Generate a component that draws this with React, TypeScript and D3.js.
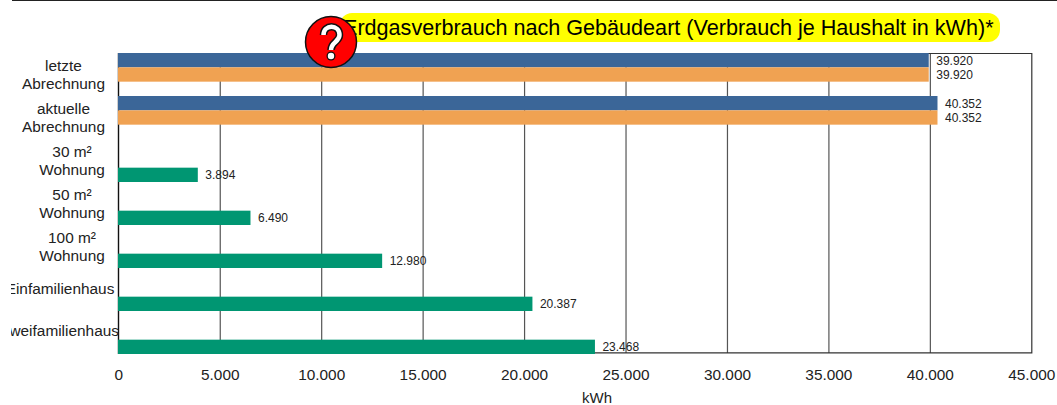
import React from "react";
import * as d3 from "d3";

const categories = [
  ["letzte", "Abrechnung"],
  ["aktuelle", "Abrechnung"],
  ["30 m²", "Wohnung"],
  ["50 m²", "Wohnung"],
  ["100 m²", "Wohnung"],
  ["Einfamilienhaus"],
  ["Zweifamilienhaus"],
];
const blueValues = [39920, 40352, null, null, null, null, null];
const orangeValues = [39920, 40352, null, null, null, null, null];
const greenValues = [null, null, 3894, 6490, 12980, 20387, 23468];
const xTicks = [0, 5000, 10000, 15000, 20000, 25000, 30000, 35000, 40000, 45000];
const seriesNames = ["blue", "orange", "green"];
const seriesColors = ["#3b6698", "#f0a252", "#009672"];
const titleText = "Erdgasverbrauch nach Gebäudeart (Verbrauch je Haushalt in kWh)*";
const axisLabel = "kWh";

const labelCenters = [63.5, 63.5, 72, 72, 72, 60, 59.5];
const labelOffsets = [18, 18, 18, 18, 18, 26, 25];

const fmt = (v: number) => d3.format(",")(v).replace(/,/g, ".");
const FONT = "'Liberation Sans', Arial, sans-serif";

export default function App() {
  const x = d3.scaleLinear().domain([0, 45000]).range([118.8, 1031.8]);
  const y = d3.scaleBand().domain(categories.map((_, i) => String(i))).range([53, 354]);
  const s = d3.scaleBand().domain(seriesNames).range([0, y.bandwidth()]);
  const allSeries = [blueValues, orangeValues, greenValues];
  return (
    <svg width={1057} height={405} style={{ position: "absolute", left: 0, top: 0, display: "block" }} fontFamily={FONT}>
      <defs>
        <clipPath id="c"><rect x={11} y={0} width={1046} height={405} /></clipPath>
      </defs>
      <line x1={12} x2={1057} y1={0.5} y2={0.5} stroke="#222" />
      {xTicks.slice(1, -1).map((t) => (
        <line key={t} x1={x(t)} x2={x(t)} y1={53} y2={353} stroke="#555" strokeWidth={1.2} />
      ))}
      <path d={`M${x(0)} 53.5 H${x(45000)} V352.8 H${x(0)}`} fill="none" stroke="#333" strokeWidth={1.2} />
      <line x1={118.5} x2={118.5} y1={53} y2={354} stroke="#111" strokeWidth={1.4} />
      {allSeries.map((vals, k) =>
        vals.map((v, i) =>
          v == null ? null : (
            <rect key={k + "-" + i} x={118} width={x(v) - 118} y={y(String(i))! + s(seriesNames[k])!} height={s.bandwidth()} fill={seriesColors[k]} />
          )
        )
      )}
      {allSeries.map((vals, k) =>
        vals.map((v, i) =>
          v == null ? null : (
            <text key={k + "-" + i} x={x(v) + 7.5} y={y(String(i))! + s(seriesNames[k])! + 11.5} fontSize={12} fill="#222">{fmt(v)}</text>
          )
        )
      )}
      <g clipPath="url(#c)">
        {categories.map((lines, i) => (
          <text key={i} textAnchor="middle" fontSize={15.4} fill="#222">
            {lines.map((l, j) => (
              <tspan key={j} x={labelCenters[i]} y={y(String(i))! + labelOffsets[i] + j * 18}>{l}</tspan>
            ))}
          </text>
        ))}
      </g>
      {xTicks.map((t) => (
        <text key={t} x={x(t)} y={380} textAnchor="middle" fontSize={15.4} fill="#222">{fmt(t)}</text>
      ))}
      <text x={597} y={403} textAnchor="middle" fontSize={15} fill="#222">{axisLabel}</text>
      <rect x={340} y={13} width={660} height={29} rx={12} fill="#ffff00" />
      <text x={343} y={35} fontSize={21.6} fill="#000">{titleText}</text>
      <circle cx={331} cy={42} r={25.5} fill="#f00" stroke="#111" strokeWidth={1.5} />
      <path d="M323.5 35 C323.5 24, 339.5 24, 339.5 35 C339.5 42, 331 42, 331 50" fill="none" stroke="#111" strokeWidth={7.5} />
      <circle cx={331} cy={56} r={4.5} fill="#111" />
      <path d="M323.5 35 C323.5 24, 339.5 24, 339.5 35 C339.5 42, 331 42, 331 50" fill="none" stroke="#fff" strokeWidth={4.5} />
      <circle cx={331} cy={56} r={3.2} fill="#fff" />
    </svg>
  );
}
